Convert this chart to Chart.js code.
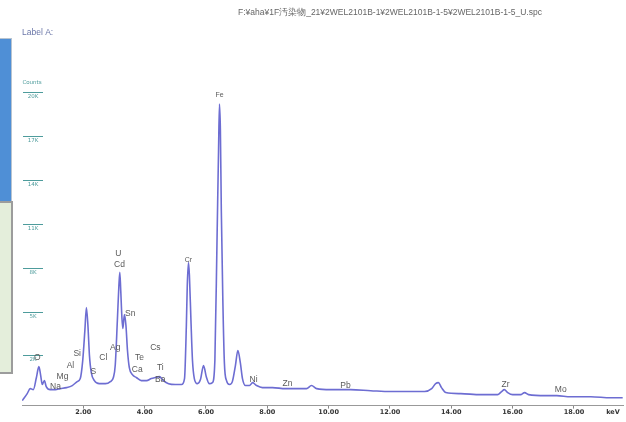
<!DOCTYPE html>
<html>
<head>
<meta charset="utf-8">
<script src="https://cdn.jsdelivr.net/npm/chart.js@4.4.1/dist/chart.umd.min.js"></script>
<style>
  body { margin: 0; background: #fff; }
  #wrap { position: relative; width: 626px; height: 422px; }
  #blueBox { position: absolute; left: 0; top: 38px; width: 11px; height: 162px; background: #4f8fd6; border: 1px solid #b8c4d0; border-left: none; }
  #greenBox { position: absolute; left: 0; top: 201px; width: 11px; height: 169px; background: #e4eedb; border: 2px solid #9c9c9c; border-left: none; }
</style>
</head>
<body>
<div id="wrap">
  <canvas id="spectrumChart" width="626" height="422"></canvas>
  <div id="blueBox"></div>
  <div id="greenBox"></div>
</div>
<script>
// spectrum (keV / counts)
const energies = [0.01, 0.17, 0.27, 0.37, 0.47, 0.55, 0.61, 0.66, 0.73, 0.79, 0.92, 1.09, 1.25, 1.45, 1.64, 1.80, 1.90, 1.98, 2.05, 2.10,
  2.15, 2.20, 2.26, 2.36, 2.52, 2.72, 2.88, 2.98, 3.04, 3.11, 3.16, 3.19, 3.22, 3.26, 3.29, 3.34, 3.39, 3.44, 3.50, 3.60,
  3.73, 3.89, 4.06, 4.22, 4.35, 4.48, 4.61, 4.78, 5.00, 5.20, 5.30, 5.36, 5.39, 5.43, 5.46, 5.51, 5.56, 5.62, 5.72, 5.82,
  5.92, 6.01, 6.11, 6.21, 6.29, 6.36, 6.41, 6.44, 6.47, 6.50, 6.55, 6.60, 6.67, 6.77, 6.86, 6.96, 7.04, 7.12, 7.19, 7.29,
  7.42, 7.52, 7.65, 7.84, 8.17, 8.59, 9.02, 9.28, 9.44, 9.61, 10.06, 10.71, 11.37, 12.02, 12.67, 13.13, 13.36, 13.49, 13.58, 13.68,
  13.82, 14.31, 14.96, 15.51, 15.64, 15.73, 15.84, 16.00, 16.26, 16.39, 16.52, 17.08, 17.44, 17.89, 18.55, 19.20, 19.59];
const counts = [-890, -410, -70, -140, 690, 1440, 820, 210, 480, 70, -140, -140, -70, 0, 140, 410, 620, 1850, 3900, 5480,
  4250, 2190, 1030, 480, 270, 270, 410, 690, 1510, 4590, 6990, 7880, 6650, 4730, 4040, 5000, 4250, 2540, 1370, 890,
  690, 480, 480, 620, 690, 750, 480, 270, 210, 210, 620, 4250, 6990, 8560, 7670, 4590, 1850, 620, 270, 550,
  1510, 750, 270, 340, 1850, 10070, 16240, 19390, 17600, 12130, 5960, 1710, 480, 210, 410, 1510, 2540, 1710, 620, 140,
  140, 340, 140, 0, 0, -70, -70, -70, 140, -70, -140, -140, -210, -270, -270, -270, -70, 270, 340, 0,
  -340, -410, -480, -480, -270, -140, -340, -480, -480, -340, -480, -550, -550, -620, -620, -690, -690];

// element markers
const peakNames  = ['O', 'Na', 'Mg', 'Al', 'Si', 'S', 'Cl', 'Ag', 'U', 'Cd', 'Sn', 'Te', 'Ca', 'Cs', 'Ti', 'Ba', 'Cr', 'Fe', 'Ni', 'Zn', 'Pb', 'Zr', 'Mo'];
const peakKeV    = [0.50, 1.09, 1.32, 1.58, 1.80, 2.33, 2.65, 3.04, 3.14, 3.18, 3.53, 3.83, 3.76, 4.35, 4.51, 4.51, 5.43, 6.44, 7.55, 8.66, 10.55, 15.77, 17.57];
const peakCounts = [2050, 70, 750, 1510, 2330, 1100, 2050, 2740, 9180, 8430, 5070, 2050, 1230, 2740, 1370, 550, 8700, 20000, 550, 270, 140, 210, -140];

// axes
const xTicks = [2, 4, 6, 8, 10, 12, 14, 16, 18];
const yTicks = [2000, 5000, 8000, 11000, 14000, 17000, 20000];
const yTickLabels = ['2K', '5K', '8K', '11K', '14K', '17K', '20K'];

const titleText = 'F:¥aha¥1F汚染物_21¥2WEL2101B-1¥2WEL2101B-1-5¥2WEL2101B-1-5_U.spc';

const decor = {
    id: 'decor',
    afterDraw(chart) {
        const { ctx, scales: { x, y } } = chart;
        ctx.save();
        // header texts
        ctx.fillStyle = '#666';
        ctx.font = '8.5px "Liberation Sans"';
        ctx.textAlign = 'center';
        ctx.textBaseline = 'middle';
        ctx.fillText(titleText, 390, 13, 316);
        ctx.fillStyle = '#6a76a8';
        ctx.font = '8.5px "Liberation Sans"';
        ctx.textAlign = 'left';
        ctx.fillText('Label A:', 22, 33);

        // count axis drawn inside the plot
        ctx.fillStyle = '#4e9c9c';
        ctx.strokeStyle = '#4e9c9c';
        ctx.lineWidth = 1;
        ctx.textAlign = 'center';
        ctx.font = '5.5px "DejaVu Sans"';
        ctx.fillText('Counts', x.left + 10, y.getPixelForValue(20000) - 13);
        yTicks.forEach((v, i) => {
            const py = Math.round(y.getPixelForValue(v)) + 0.5;
            ctx.beginPath();
            ctx.moveTo(x.left + 1, py - 3);
            ctx.lineTo(x.left + 21, py - 3);
            ctx.stroke();
            ctx.fillText(yTickLabels[i], x.left + 11, py + 1);
        });

        // element labels
        ctx.fillStyle = '#5a5a5a';
        peakNames.forEach((n, i) => {
            if (n === 'Fe' || n === 'Cr') ctx.font = '7px "Liberation Sans"';
            else ctx.font = '8.5px "Liberation Sans"';
            ctx.fillText(n, x.getPixelForValue(peakKeV[i]), y.getPixelForValue(peakCounts[i]));
        });

        // unit
        ctx.fillStyle = '#333';
        ctx.font = 'bold 6.5px "DejaVu Sans"';
        ctx.fillText('keV', x.right - 10, x.top + 7);
        ctx.restore();
    }
};

const ctx = document.getElementById('spectrumChart').getContext('2d');
const spectrumChart = new Chart(ctx, {
    type: 'line',
    data: {
        datasets: [{
            data: energies.map((e, i) => ({ x: e, y: counts[i] })),
            borderColor: '#6d6dd2',
            borderWidth: 1.6,
            pointRadius: 0,
            fill: false,
            cubicInterpolationMode: 'monotone'
        }]
    },
    options: {
        responsive: false,
        animation: false,
        layout: { padding: { left: 22, right: 3, top: 66, bottom: 5.6 } },
        plugins: { legend: { display: false }, tooltip: { enabled: false } },
        scales: {
            x: {
                type: 'linear',
                min: 0,
                max: 19.6,
                afterBuildTicks: (scale) => { scale.ticks = xTicks.map(v => ({ value: v })); },
                grid: { drawOnChartArea: false, tickLength: 3, color: '#888' },
                border: { color: '#999', width: 1 },
                ticks: {
                    padding: 0,
                    color: '#333',
                    font: { size: 6.5, weight: 'bold', family: 'DejaVu Sans' },
                    maxRotation: 0,
                    callback: (v) => v.toFixed(2)
                }
            },
            y: {
                display: false,
                min: -1230,
                max: 22000
            }
        }
    },
    plugins: [decor]
});
</script>
</body>
</html>
